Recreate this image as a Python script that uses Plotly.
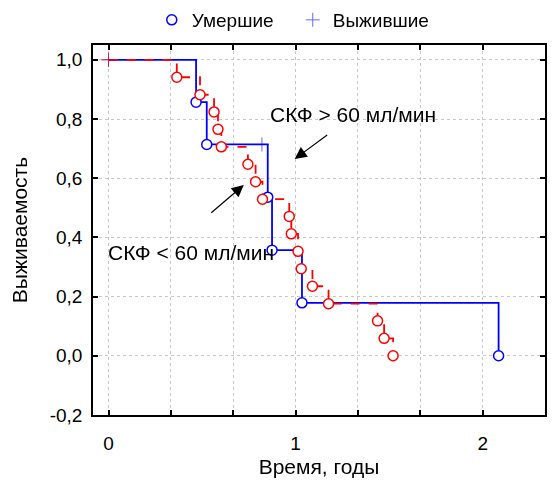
import plotly.graph_objects as go

# --- data (time in years, survival fraction) ---
# GFR > 60 ml/min (blue)
hi_time = [0.0, 0.468, 0.525, 0.820, 0.851, 0.874, 1.034, 2.085]
hi_surv = [1.0, 0.857, 0.714, 0.714, 0.536, 0.357, 0.179, 0.0]
hi_event_time = [0.468, 0.525, 0.851, 0.874, 1.034, 2.085]
hi_event_surv = [0.857, 0.714, 0.536, 0.357, 0.179, 0.0]
hi_cens_time = [0.0, 0.820]
hi_cens_surv = [1.0, 0.714]

# GFR < 60 ml/min (red)
lo_time = [0.0, 0.365, 0.489, 0.564, 0.585, 0.603, 0.745, 0.786, 0.823,
           0.966, 0.977, 1.013, 1.030, 1.090, 1.176, 1.438, 1.473, 1.521]
lo_surv = [1.0, 0.941, 0.882, 0.824, 0.765, 0.706, 0.647, 0.588, 0.529,
           0.471, 0.412, 0.353, 0.294, 0.235, 0.176, 0.118, 0.059, 0.0]
lo_cens_time = [0.0]
lo_cens_surv = [1.0]

x_tickvals = [0, 1/3, 2/3, 1, 4/3, 5/3, 2]
x_ticktext = ["0", "", "", "1", "", "", "2"]
y_tickvals = [-0.2, 0.0, 0.2, 0.4, 0.6, 0.8, 1.0]
y_ticktext = ["-0,2", "0,0", "0,2", "0,4", "0,6", "0,8", "1,0"]

BLUE = "#0000FF"
RED = "#FF0000"
FONT = "Liberation Sans, Arial, sans-serif"

fig = go.Figure()

# blue step line
fig.add_trace(go.Scatter(x=hi_time, y=hi_surv, mode="lines", line_shape="hv",
                         line=dict(color=BLUE, width=1.8),
                         showlegend=False, hoverinfo="skip"))
# red step line
fig.add_trace(go.Scatter(x=lo_time, y=lo_surv, mode="lines", line_shape="hv",
                         line=dict(color=RED, width=1.8, dash="dash"),
                         showlegend=False, hoverinfo="skip"))
# blue markers
fig.add_trace(go.Scatter(x=hi_event_time, y=hi_event_surv, mode="markers",
                         name="Умершие",
                         marker=dict(symbol="circle", size=10, color="white",
                                     line=dict(color=BLUE, width=1.5))))
fig.add_trace(go.Scatter(x=hi_cens_time, y=hi_cens_surv, mode="markers",
                         name="Выжившие", opacity=0.6,
                         marker=dict(symbol="cross-thin-open", size=10, color=BLUE,
                                     line=dict(color=BLUE, width=1))))
# red markers
lo_event_time = lo_time[1:]
lo_event_surv = lo_surv[1:]
fig.add_trace(go.Scatter(x=lo_event_time, y=lo_event_surv, mode="markers",
                         showlegend=False,
                         marker=dict(symbol="circle", size=10, color="white",
                                     line=dict(color=RED, width=1.5))))
fig.add_trace(go.Scatter(x=lo_cens_time, y=lo_cens_surv, mode="markers",
                         showlegend=False, opacity=0.7,
                         marker=dict(symbol="cross-thin-open", size=10, color=RED,
                                     line=dict(color=RED, width=1))))

fig.add_annotation(x=1.307, y=0.816, text="СКФ > 60 мл/мин", showarrow=False,
                   font=dict(size=21, color="black", family=FONT))
fig.add_annotation(x=0.441, y=0.348, text="СКФ < 60 мл/мин", showarrow=False,
                   font=dict(size=21, color="black", family=FONT))
fig.add_annotation(x=0.995, y=0.665, ax=34, ay=-25, text="", showarrow=True,
                   arrowhead=2, arrowsize=2.0, arrowwidth=1.2, arrowcolor="black")
fig.add_annotation(x=0.723, y=0.577, ax=-34, ay=29, text="", showarrow=True,
                   arrowhead=2, arrowsize=2.0, arrowwidth=1.2, arrowcolor="black")

axis_common = dict(showline=True, linecolor="black", linewidth=1.5, mirror="ticks",
                   ticks="inside", ticklen=5, tickwidth=1.5, tickcolor="black",
                   showgrid=True, gridcolor="#c8c8c8", griddash="dot", gridwidth=1,
                   zeroline=False, automargin=False,
                   tickfont=dict(size=19, color="black", family=FONT))

fig.update_xaxes(range=[-0.083, 2.333], tickmode="array", tickvals=x_tickvals,
                 ticktext=x_ticktext, ticklabelstandoff=10,
                 title=dict(text="Время, годы", font=dict(size=21, color="black", family=FONT),
                            standoff=7),
                 **axis_common)
fig.update_yaxes(range=[-0.2, 1.05], tickmode="array", tickvals=y_tickvals,
                 ticktext=y_ticktext, ticklabelstandoff=5,
                 title=dict(text="Выживаемость", font=dict(size=21, color="black", family=FONT),
                            standoff=20),
                 **axis_common)

# page body has an 8px default margin; figure is sized to fit inside 560x482
fig.update_layout(
    width=552, height=474,
    margin=dict(l=85, r=15, t=37, b=67),
    paper_bgcolor="white", plot_bgcolor="white",
    font=dict(family=FONT, size=18, color="black"),
    legend=dict(orientation="h", xref="paper", x=0.13, xanchor="left",
                yref="container", y=1 - 12 / 474, yanchor="middle",
                entrywidth=96,
                font=dict(size=19, family=FONT), bgcolor="rgba(0,0,0,0)"),
)

fig.write_html("out.html")
